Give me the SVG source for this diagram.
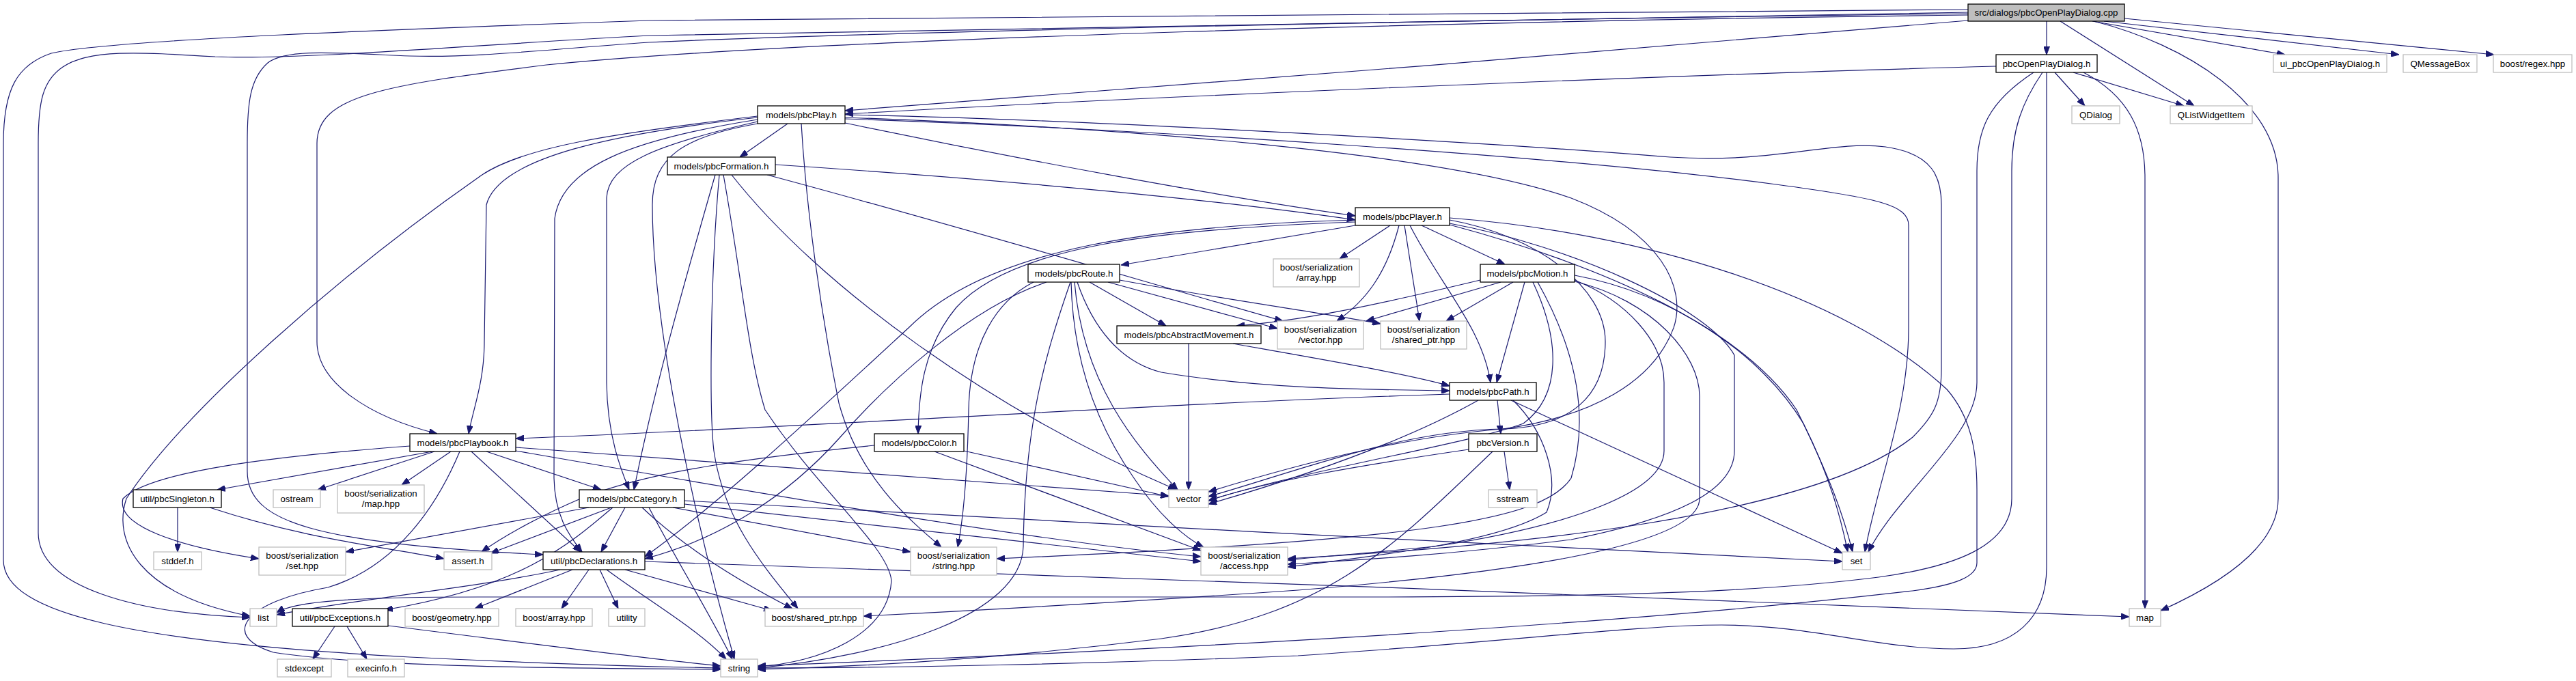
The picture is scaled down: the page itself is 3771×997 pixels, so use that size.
<svg xmlns="http://www.w3.org/2000/svg" width="3771" height="997" viewBox="0 0 3771 997">
<style>
.n rect{fill:#fff;stroke:#000;stroke-width:1.3}
.x rect{fill:#fff;stroke:#bfbfbf;stroke-width:1.3}
.r rect{fill:#bfbfbf;stroke:#000;stroke-width:1.3}
text{font-family:"Liberation Sans",Arial,sans-serif;font-size:13.3px;fill:#000;text-anchor:middle}
#edges path{fill:none;stroke:#191970;stroke-width:1.2;marker-end:url(#a)}
</style>
<defs>
<marker id="a" markerUnits="userSpaceOnUse" markerWidth="12" markerHeight="9" refX="12" refY="4.5" orient="auto">
<path d="M0,0 L12,4.5 L0,9 z" fill="#191970" stroke="#191970" stroke-width="1"/>
</marker>
</defs>
<rect width="3771" height="997" fill="#fff"/>
<g id="edges">
<path d="M2996,31 L2996,80"/>
<path d="M3063,31 L3345,80"/>
<path d="M3080,31 L3512,80"/>
<path d="M3110,27 L3651,80"/>
<path d="M3016,31 L3212,155"/>
<path d="M3065,31 C3200,65 3335,150 3335,260 L3335,730 C3335,800 3250,855 3163,894"/>
<path d="M2881,30 C2400,70 1700,130 1237,162"/>
<path d="M2881,22 C2200,30 1200,55 800,95 C560,125 464,140 464,210 L464,500 C464,560 540,610 640,635"/>
<path d="M2881,20 C2000,30 1200,50 950,62 C800,72 700,85 600,82 C500,78 420,70 392,92 C366,115 362,150 362,210 L362,690 C362,765 460,795 795,812"/>
<path d="M2881,18 C2000,28 1200,42 950,52 C700,65 450,88 315,83 C200,76 130,72 92,98 C62,118 56,150 56,210 L56,780 C56,860 200,898 366,904"/>
<path d="M2881,14 C2000,18 1200,24 950,30 C600,42 160,58 75,78 C25,95 5,130 5,210 L5,820 C5,900 200,940 600,962 C800,972 950,976 1055,978"/>
<path d="M3008,106 L3052,155"/>
<path d="M3035,106 L3197,155"/>
<path d="M2922,97 C2500,108 1700,140 1237,167"/>
<path d="M3050,106 C3115,140 3140,190 3140,260 L3140,891"/>
<path d="M2990,106 C2960,150 2945,190 2945,250 L2945,730 C2945,800 2860,830 2750,845 C2600,864 2400,874 2000,874 L700,874 C520,874 430,880 405,897"/>
<path d="M2996,106 L2996,830 C2996,905 2950,950 2860,950 C2750,950 2650,915 2520,915 C2400,915 2200,940 1900,960 C1600,972 1300,978 1109,978"/>
<path d="M2977,106 C2910,150 2894,190 2894,250 L2894,560 C2894,640 2780,720 2735,808"/>
<path d="M1153,181 L1083,230"/>
<path d="M1237,180 C1500,235 1800,290 1984,316"/>
<path d="M1109,172 C900,195 730,230 712,300 L709,500 C709,560 692,600 686,635"/>
<path d="M1109,175 C920,205 822,245 812,320 L811,700 C812,760 838,790 852,808"/>
<path d="M1109,178 C960,212 890,240 888,290 L888,560 C889,640 910,690 921,717"/>
<path d="M1109,170 C900,195 760,215 700,260 C500,400 270,600 185,730 C165,790 200,870 366,902"/>
<path d="M1173,181 C1180,300 1200,450 1228,590 C1258,700 1330,760 1378,801"/>
<path d="M1109,181 C1000,200 955,230 955,300 C955,450 1000,700 1075,965"/>
<path d="M1237,172 C1600,185 2100,220 2300,290 C2430,340 2470,420 2450,480 C2420,560 2330,610 2200,628 C2050,640 1900,680 1769,720"/>
<path d="M1237,174 C1700,190 2300,230 2600,270 C2750,290 2794,300 2794,330 L2794,480 C2794,600 2750,700 2730,808"/>
<path d="M1237,168 C1600,175 2200,210 2445,230 C2600,240 2680,205 2760,215 C2830,225 2842,260 2842,300 L2842,540 C2842,590 2830,610 2800,640 C2650,760 2200,800 1885,818"/>
<path d="M1135,241 C1500,265 1800,295 1984,322"/>
<path d="M1123,256 C1400,330 1700,420 1878,470"/>
<path d="M1071,256 C1200,420 1450,600 1722,717"/>
<path d="M1047,256 C1000,420 960,560 928,717"/>
<path d="M1053,256 C1040,400 1038,600 1045,660 C1060,760 1110,820 1168,891"/>
<path d="M1059,256 C1085,400 1095,520 1120,600 C1200,720 1300,800 1305,850 C1300,930 1200,970 1109,976"/>
<path d="M2035,330 L1961,379"/>
<path d="M2048,330 C2030,400 2000,440 1957,470"/>
<path d="M2056,330 L2078,470"/>
<path d="M2064,330 C2110,420 2170,480 2182,560"/>
<path d="M2081,330 L2203,387"/>
<path d="M1984,330 L1641,388"/>
<path d="M1984,325 C1700,335 1480,360 1400,450 C1350,510 1345,580 1344,635"/>
<path d="M1984,322 C1700,330 1450,360 1330,480 C1200,600 1050,740 944,815"/>
<path d="M2122,322 C2250,345 2350,420 2350,500 C2350,580 2300,625 2200,628 C2050,630 1900,690 1769,727"/>
<path d="M2122,327 C2300,360 2500,450 2539,520 L2539,660 C2539,720 2450,760 2300,790 C2100,815 1950,822 1885,826"/>
<path d="M2122,329 C2350,390 2550,480 2630,600 C2680,700 2700,760 2712,808"/>
<path d="M2122,319 C2400,340 2700,430 2850,570 C2885,610 2894,660 2894,717 L2894,824 C2894,845 2860,857 2800,865 C2500,900 2000,940 1109,975"/>
<path d="M1595,413 L1707,477"/>
<path d="M1622,413 L1870,481"/>
<path d="M1639,410 C1800,440 1950,460 2021,474"/>
<path d="M1577,413 C1600,480 1640,530 1700,545 C1850,570 2000,570 2122,572"/>
<path d="M1573,413 C1585,560 1660,650 1724,717"/>
<path d="M1513,413 C1460,440 1420,500 1418,600 C1416,700 1410,760 1402,801"/>
<path d="M1532,413 C1420,450 1300,560 1230,640 C1150,730 1050,790 944,818"/>
<path d="M1567,413 C1530,520 1500,620 1498,800 C1495,900 1300,960 1109,978"/>
<path d="M1568,413 C1570,500 1590,600 1660,700 C1700,760 1740,790 1762,801"/>
<path d="M2167,410 C2000,450 1900,470 1810,477"/>
<path d="M2197,413 L2000,470"/>
<path d="M2215,413 L2117,470"/>
<path d="M2232,413 L2191,560"/>
<path d="M2244,413 C2285,500 2285,580 2230,620 C2150,650 1900,690 1769,733"/>
<path d="M2251,413 C2300,500 2330,600 2300,700 C2260,760 2100,790 1459,818"/>
<path d="M2305,403 C2450,430 2580,520 2640,620 C2680,700 2695,760 2705,808"/>
<path d="M2305,410 C2380,440 2436,500 2436,560 L2436,660 C2436,720 2300,770 2100,800 C2000,810 1930,815 1885,820"/>
<path d="M2305,412 C2420,440 2488,520 2488,580 L2488,730 C2488,800 2200,840 1900,864 C1600,885 1400,895 1264,902"/>
<path d="M1740,503 L1740,717"/>
<path d="M1805,503 C1900,520 2050,545 2122,565"/>
<path d="M2192,586 L2197,635"/>
<path d="M2212,586 L2697,810"/>
<path d="M2164,586 C2050,650 1900,700 1769,738"/>
<path d="M2122,577 C1700,590 1200,625 755,642"/>
<path d="M2215,586 C2260,630 2285,700 2264,750 C2200,790 2050,810 1885,830"/>
<path d="M1411,660 L1711,727"/>
<path d="M1368,661 L1758,806"/>
<path d="M1280,652 C1100,670 950,690 850,730 C780,760 730,790 705,808"/>
<path d="M2202,661 L2210,717"/>
<path d="M2150,658 C2000,680 1850,705 1769,733"/>
<path d="M2185,661 C2050,790 1950,900 1700,935 C1500,960 1300,975 1109,980"/>
<path d="M633,661 L318,717"/>
<path d="M636,661 L465,717"/>
<path d="M660,661 L588,710"/>
<path d="M600,653 C400,668 220,690 180,730 C170,770 260,800 379,818"/>
<path d="M690,661 L850,808"/>
<path d="M712,661 L880,717"/>
<path d="M755,655 C1100,680 1450,705 1711,726"/>
<path d="M755,660 C1100,720 1500,790 1758,815"/>
<path d="M673,661 C640,740 580,830 480,860 C360,880 320,930 400,955 C550,978 850,978 1055,980"/>
<path d="M260,743 L260,808"/>
<path d="M307,743 C450,790 560,800 650,818"/>
<path d="M862,743 L506,808"/>
<path d="M895,743 L718,810"/>
<path d="M897,743 C830,800 760,860 563,893"/>
<path d="M915,743 L880,808"/>
<path d="M940,743 C1000,800 1080,850 1160,891"/>
<path d="M950,743 C990,820 1040,900 1072,965"/>
<path d="M985,743 L1333,808"/>
<path d="M1002,738 C1300,770 1550,800 1758,822"/>
<path d="M1002,733 C1500,760 2200,800 2697,822"/>
<path d="M820,834 C700,860 500,880 405,900"/>
<path d="M838,834 L695,891"/>
<path d="M862,834 L822,891"/>
<path d="M878,834 L905,891"/>
<path d="M888,834 C950,880 1020,920 1063,965"/>
<path d="M915,834 L1130,894"/>
<path d="M944,822 C1500,840 2600,880 3117,903"/>
<path d="M490,917 L458,965"/>
<path d="M508,917 L537,965"/>
<path d="M568,916 C800,945 950,965 1055,975"/>
</g>
<g id="root" class="r"><rect x="2881" y="6" width="229" height="25"/><text x="2995.5" y="23">src/dialogs/pbcOpenPlayDialog.cpp</text></g>
<g id="n1" class="n"><rect x="2922" y="80" width="148" height="26"/><text x="2996" y="98">pbcOpenPlayDialog.h</text></g>
<g id="n2" class="x"><rect x="3033" y="155" width="70" height="26"/><text x="3068" y="173">QDialog</text></g>
<g id="n3" class="x"><rect x="3177" y="155" width="120" height="26"/><text x="3237" y="173">QListWidgetItem</text></g>
<g id="n4" class="x"><rect x="3328" y="80" width="166" height="26"/><text x="3411" y="98">ui_pbcOpenPlayDialog.h</text></g>
<g id="n5" class="x"><rect x="3518" y="80" width="108" height="26"/><text x="3572" y="98">QMessageBox</text></g>
<g id="n6" class="x"><rect x="3650" y="80" width="115" height="26"/><text x="3707.5" y="98">boost/regex.hpp</text></g>
<g id="n7" class="n"><rect x="1109" y="155" width="128" height="26"/><text x="1173" y="173">models/pbcPlay.h</text></g>
<g id="n8" class="n"><rect x="977" y="230" width="158" height="26"/><text x="1056" y="248">models/pbcFormation.h</text></g>
<g id="n9" class="n"><rect x="1984" y="304" width="138" height="26"/><text x="2053" y="322">models/pbcPlayer.h</text></g>
<g id="n10" class="n"><rect x="1505" y="387" width="134" height="26"/><text x="1572" y="405">models/pbcRoute.h</text></g>
<g id="n11" class="n"><rect x="2167" y="387" width="138" height="26"/><text x="2236" y="405">models/pbcMotion.h</text></g>
<g id="n12" class="x"><rect x="1864" y="379" width="126" height="41"/><text x="1927" y="396">boost/serialization</text><text x="1927" y="411">/array.hpp</text></g>
<g id="n13" class="n"><rect x="1635" y="477" width="211" height="26"/><text x="1740.5" y="495">models/pbcAbstractMovement.h</text></g>
<g id="n14" class="x"><rect x="1870" y="470" width="126" height="41"/><text x="1933" y="487">boost/serialization</text><text x="1933" y="502">/vector.hpp</text></g>
<g id="n15" class="x"><rect x="2021" y="470" width="126" height="41"/><text x="2084" y="487">boost/serialization</text><text x="2084" y="502">/shared_ptr.hpp</text></g>
<g id="n16" class="n"><rect x="2122" y="560" width="127" height="26"/><text x="2185.5" y="578">models/pbcPath.h</text></g>
<g id="n17" class="n"><rect x="1280" y="635" width="131" height="26"/><text x="1345.5" y="653">models/pbcColor.h</text></g>
<g id="n18" class="n"><rect x="2150" y="635" width="100" height="26"/><text x="2200" y="653">pbcVersion.h</text></g>
<g id="n19" class="n"><rect x="600" y="635" width="155" height="26"/><text x="677.5" y="653">models/pbcPlaybook.h</text></g>
<g id="n20" class="n"><rect x="195" y="717" width="129" height="26"/><text x="259.5" y="735">util/pbcSingleton.h</text></g>
<g id="n21" class="x"><rect x="400" y="717" width="69" height="26"/><text x="434.5" y="735">ostream</text></g>
<g id="n22" class="x"><rect x="494" y="710" width="127" height="41"/><text x="557.5" y="727">boost/serialization</text><text x="557.5" y="742">/map.hpp</text></g>
<g id="n23" class="n"><rect x="848" y="717" width="154" height="26"/><text x="925" y="735">models/pbcCategory.h</text></g>
<g id="n24" class="x"><rect x="1711" y="717" width="58" height="26"/><text x="1740" y="735">vector</text></g>
<g id="n25" class="x"><rect x="2179" y="717" width="71" height="26"/><text x="2214.5" y="735">sstream</text></g>
<g id="n26" class="x"><rect x="225" y="808" width="70" height="26"/><text x="260" y="826">stddef.h</text></g>
<g id="n27" class="x"><rect x="379" y="801" width="127" height="41"/><text x="442.5" y="818">boost/serialization</text><text x="442.5" y="833">/set.hpp</text></g>
<g id="n28" class="x"><rect x="650" y="808" width="70" height="26"/><text x="685" y="826">assert.h</text></g>
<g id="n29" class="n"><rect x="795" y="808" width="149" height="26"/><text x="869.5" y="826">util/pbcDeclarations.h</text></g>
<g id="n30" class="x"><rect x="1333" y="801" width="126" height="41"/><text x="1396" y="818">boost/serialization</text><text x="1396" y="833">/string.hpp</text></g>
<g id="n31" class="x"><rect x="1758" y="801" width="127" height="41"/><text x="1821.5" y="818">boost/serialization</text><text x="1821.5" y="833">/access.hpp</text></g>
<g id="n32" class="x"><rect x="2697" y="808" width="41" height="26"/><text x="2717.5" y="826">set</text></g>
<g id="n33" class="x"><rect x="366" y="891" width="39" height="26"/><text x="385.5" y="909">list</text></g>
<g id="n34" class="n"><rect x="428" y="891" width="140" height="26"/><text x="498" y="909">util/pbcExceptions.h</text></g>
<g id="n35" class="x"><rect x="593" y="891" width="137" height="26"/><text x="661.5" y="909">boost/geometry.hpp</text></g>
<g id="n36" class="x"><rect x="755" y="891" width="112" height="26"/><text x="811" y="909">boost/array.hpp</text></g>
<g id="n37" class="x"><rect x="891" y="891" width="53" height="26"/><text x="917.5" y="909">utility</text></g>
<g id="n38" class="x"><rect x="1120" y="891" width="144" height="26"/><text x="1192" y="909">boost/shared_ptr.hpp</text></g>
<g id="n39" class="x"><rect x="3117" y="891" width="46" height="26"/><text x="3140" y="909">map</text></g>
<g id="n40" class="x"><rect x="406" y="965" width="79" height="26"/><text x="445.5" y="983">stdexcept</text></g>
<g id="n41" class="x"><rect x="509" y="965" width="83" height="26"/><text x="550.5" y="983">execinfo.h</text></g>
<g id="n42" class="x"><rect x="1055" y="965" width="54" height="26"/><text x="1082" y="983">string</text></g>
</svg>
